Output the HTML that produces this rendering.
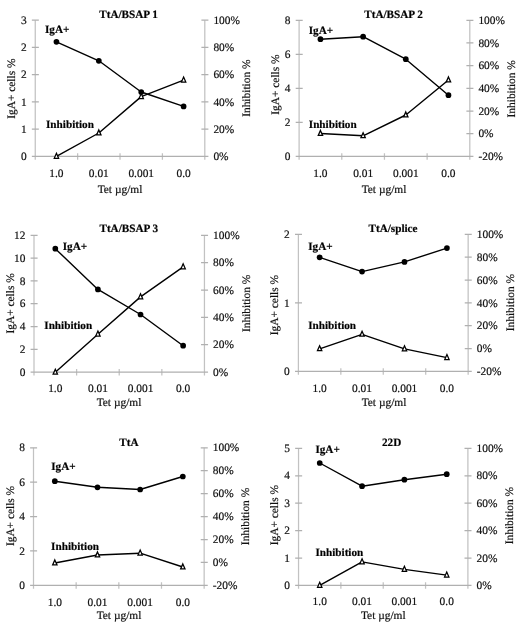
<!DOCTYPE html>
<html><head><meta charset="utf-8"><style>
html,body{margin:0;padding:0;background:#fff;}
svg{display:block;}
text{text-rendering:geometricPrecision;font-family:"Liberation Serif",serif;font-size:11.4px;fill:#111;stroke:#111;stroke-width:0.2px;}
text.b{font-weight:bold;fill:#000;font-size:11.2px;}
</style></head><body>
<svg style="will-change:transform" width="520" height="628" viewBox="0 0 520 628">
<rect width="520" height="628" fill="#fff"/>
<path d="M35.25 20.15V159.7M204.8 20.15V159.7M35.25 153.2V159.7M77.64 153.2V159.7M120.03 153.2V159.7M162.41 153.2V159.7M204.8 153.2V159.7" stroke="#c2c2c2" stroke-width="1.25" fill="none"/>
<path d="M35.25 156.4H204.8M31.85 156.4H38.85M31.85 129.15H38.85M31.85 101.9H38.85M31.85 74.65H38.85M31.85 47.4H38.85M31.85 20.15H38.85M201.4 156.4H208.4M201.4 129.15H208.4M201.4 101.9H208.4M201.4 74.65H208.4M201.4 47.4H208.4M201.4 20.15H208.4" stroke="#b0b0b0" stroke-width="1.25" fill="none"/>
<text x="26.65" y="160" text-anchor="end">0</text>
<text x="26.65" y="132.75" text-anchor="end">1</text>
<text x="26.65" y="105.5" text-anchor="end">1</text>
<text x="26.65" y="78.25" text-anchor="end">2</text>
<text x="26.65" y="51" text-anchor="end">2</text>
<text x="26.65" y="23.75" text-anchor="end">3</text>
<text x="213.4" y="160">0%</text>
<text x="213.4" y="132.75">20%</text>
<text x="213.4" y="105.5">40%</text>
<text x="213.4" y="78.25">60%</text>
<text x="213.4" y="51">80%</text>
<text x="213.4" y="23.75">100%</text>
<text x="56.44" y="176.5" text-anchor="middle">1.0</text>
<text x="98.83" y="176.5" text-anchor="middle">0.01</text>
<text x="141.22" y="176.5" text-anchor="middle">0.001</text>
<text x="183.61" y="176.5" text-anchor="middle">0.0</text>
<text x="120" y="192.6" text-anchor="middle">Tet &#181;g/ml</text>
<text transform="translate(15.15 88.7) rotate(-90)" text-anchor="middle">IgA+ cells %</text>
<text transform="translate(250.45 88.2) rotate(-90)" text-anchor="middle">Inhibition %</text>
<text class="b" x="128.6" y="17.7" text-anchor="middle">TtA/BSAP 1</text>
<text class="b" x="45" y="32.7">IgA+</text>
<text class="b" x="46" y="127.6">Inhibition</text>
<polyline points="56.44,41.8 98.83,60.8 141.22,92 183.61,106.4" fill="none" stroke="#000" stroke-width="1.4" stroke-linejoin="round"/>
<polyline points="56.44,156.4 98.83,133 141.22,96.6 183.61,80.2" fill="none" stroke="#000" stroke-width="1.4" stroke-linejoin="round"/>
<circle cx="56.44" cy="41.8" r="2.85" fill="#000"/>
<circle cx="98.83" cy="60.8" r="2.85" fill="#000"/>
<circle cx="141.22" cy="92" r="2.85" fill="#000"/>
<circle cx="183.61" cy="106.4" r="2.85" fill="#000"/>
<path d="M56.44 153.3L58.64 158.3H54.24Z" fill="#fff" stroke="#000" stroke-width="1.25" stroke-linejoin="miter"/>
<path d="M98.83 129.9L101.03 134.9H96.63Z" fill="#fff" stroke="#000" stroke-width="1.25" stroke-linejoin="miter"/>
<path d="M141.22 93.5L143.42 98.5H139.02Z" fill="#fff" stroke="#000" stroke-width="1.25" stroke-linejoin="miter"/>
<path d="M183.61 77.1L185.81 82.1H181.41Z" fill="#fff" stroke="#000" stroke-width="1.25" stroke-linejoin="miter"/>
<path d="M299.1 20.3V159.65M469.8 20.3V159.65M299.1 153.15V159.65M341.78 153.15V159.65M384.45 153.15V159.65M427.12 153.15V159.65M469.8 153.15V159.65" stroke="#c2c2c2" stroke-width="1.25" fill="none"/>
<path d="M299.1 156.35H469.8M295.7 156.35H302.7M295.7 122.34H302.7M295.7 88.33H302.7M295.7 54.31H302.7M295.7 20.3H302.7M466.4 156.35H473.4M466.4 133.68H473.4M466.4 111H473.4M466.4 88.33H473.4M466.4 65.65H473.4M466.4 42.98H473.4M466.4 20.3H473.4" stroke="#b0b0b0" stroke-width="1.25" fill="none"/>
<text x="290.5" y="159.95" text-anchor="end">0</text>
<text x="290.5" y="125.94" text-anchor="end">2</text>
<text x="290.5" y="91.92" text-anchor="end">4</text>
<text x="290.5" y="57.91" text-anchor="end">6</text>
<text x="290.5" y="23.9" text-anchor="end">8</text>
<text x="478.4" y="159.95">-20%</text>
<text x="478.4" y="137.28">0%</text>
<text x="478.4" y="114.6">20%</text>
<text x="478.4" y="91.92">40%</text>
<text x="478.4" y="69.25">60%</text>
<text x="478.4" y="46.58">80%</text>
<text x="478.4" y="23.9">100%</text>
<text x="320.44" y="176.5" text-anchor="middle">1.0</text>
<text x="363.11" y="176.5" text-anchor="middle">0.01</text>
<text x="405.79" y="176.5" text-anchor="middle">0.001</text>
<text x="448.46" y="176.5" text-anchor="middle">0.0</text>
<text x="384" y="192.5" text-anchor="middle">Tet &#181;g/ml</text>
<text transform="translate(279.45 84.6) rotate(-90)" text-anchor="middle">IgA+ cells %</text>
<text transform="translate(514.85 88.8) rotate(-90)" text-anchor="middle">Inhibition %</text>
<text class="b" x="393.6" y="18.2" text-anchor="middle">TtA/BSAP 2</text>
<text class="b" x="308.7" y="33.5">IgA+</text>
<text class="b" x="308.8" y="127.7">Inhibition</text>
<polyline points="320.44,39.2 363.11,36.7 405.79,59.2 448.46,95.2" fill="none" stroke="#000" stroke-width="1.4" stroke-linejoin="round"/>
<polyline points="320.44,133.5 363.11,135.8 405.79,115 448.46,80" fill="none" stroke="#000" stroke-width="1.4" stroke-linejoin="round"/>
<circle cx="320.44" cy="39.2" r="2.85" fill="#000"/>
<circle cx="363.11" cy="36.7" r="2.85" fill="#000"/>
<circle cx="405.79" cy="59.2" r="2.85" fill="#000"/>
<circle cx="448.46" cy="95.2" r="2.85" fill="#000"/>
<path d="M320.44 130.4L322.64 135.4H318.24Z" fill="#fff" stroke="#000" stroke-width="1.25" stroke-linejoin="miter"/>
<path d="M363.11 132.7L365.31 137.7H360.91Z" fill="#fff" stroke="#000" stroke-width="1.25" stroke-linejoin="miter"/>
<path d="M405.79 111.9L407.99 116.9H403.59Z" fill="#fff" stroke="#000" stroke-width="1.25" stroke-linejoin="miter"/>
<path d="M448.46 76.9L450.66 81.9H446.26Z" fill="#fff" stroke="#000" stroke-width="1.25" stroke-linejoin="miter"/>
<path d="M34 235.3V375.4M204.45 235.3V375.4M34 368.9V375.4M76.61 368.9V375.4M119.22 368.9V375.4M161.84 368.9V375.4M204.45 368.9V375.4" stroke="#c2c2c2" stroke-width="1.25" fill="none"/>
<path d="M34 372.1H204.45M30.6 372.1H37.6M30.6 349.3H37.6M30.6 326.5H37.6M30.6 303.7H37.6M30.6 280.9H37.6M30.6 258.1H37.6M30.6 235.3H37.6M201.05 372.1H208.05M201.05 344.74H208.05M201.05 317.38H208.05M201.05 290.02H208.05M201.05 262.66H208.05M201.05 235.3H208.05" stroke="#b0b0b0" stroke-width="1.25" fill="none"/>
<text x="25.4" y="375.7" text-anchor="end">0</text>
<text x="25.4" y="352.9" text-anchor="end">2</text>
<text x="25.4" y="330.1" text-anchor="end">4</text>
<text x="25.4" y="307.3" text-anchor="end">6</text>
<text x="25.4" y="284.5" text-anchor="end">8</text>
<text x="25.4" y="261.7" text-anchor="end">10</text>
<text x="25.4" y="238.9" text-anchor="end">12</text>
<text x="213.05" y="375.7">0%</text>
<text x="213.05" y="348.34">20%</text>
<text x="213.05" y="320.98">40%</text>
<text x="213.05" y="293.62">60%</text>
<text x="213.05" y="266.26">80%</text>
<text x="213.05" y="238.9">100%</text>
<text x="55.31" y="391.9" text-anchor="middle">1.0</text>
<text x="97.92" y="391.9" text-anchor="middle">0.01</text>
<text x="140.53" y="391.9" text-anchor="middle">0.001</text>
<text x="183.14" y="391.9" text-anchor="middle">0.0</text>
<text x="119" y="405.6" text-anchor="middle">Tet &#181;g/ml</text>
<text transform="translate(13.95 303.4) rotate(-90)" text-anchor="middle">IgA+ cells %</text>
<text transform="translate(249.65 303.4) rotate(-90)" text-anchor="middle">Inhibition %</text>
<text class="b" x="128.8" y="231.6" text-anchor="middle">TtA/BSAP 3</text>
<text class="b" x="62.7" y="250">IgA+</text>
<text class="b" x="44.3" y="329.2">Inhibition</text>
<polyline points="55.31,248.7 97.92,289.4 140.53,314.5 183.14,345.7" fill="none" stroke="#000" stroke-width="1.4" stroke-linejoin="round"/>
<polyline points="55.31,372.3 97.92,334.2 140.53,296.9 183.14,266.9" fill="none" stroke="#000" stroke-width="1.4" stroke-linejoin="round"/>
<circle cx="55.31" cy="248.7" r="2.85" fill="#000"/>
<circle cx="97.92" cy="289.4" r="2.85" fill="#000"/>
<circle cx="140.53" cy="314.5" r="2.85" fill="#000"/>
<circle cx="183.14" cy="345.7" r="2.85" fill="#000"/>
<path d="M55.31 369.2L57.51 374.2H53.11Z" fill="#fff" stroke="#000" stroke-width="1.25" stroke-linejoin="miter"/>
<path d="M97.92 331.1L100.12 336.1H95.72Z" fill="#fff" stroke="#000" stroke-width="1.25" stroke-linejoin="miter"/>
<path d="M140.53 293.8L142.73 298.8H138.33Z" fill="#fff" stroke="#000" stroke-width="1.25" stroke-linejoin="miter"/>
<path d="M183.14 263.8L185.34 268.8H180.94Z" fill="#fff" stroke="#000" stroke-width="1.25" stroke-linejoin="miter"/>
<path d="M298.4 234.4V374.7M468.15 234.4V374.7M298.4 368.2V374.7M340.84 368.2V374.7M383.27 368.2V374.7M425.71 368.2V374.7M468.15 368.2V374.7" stroke="#c2c2c2" stroke-width="1.25" fill="none"/>
<path d="M298.4 371.4H468.15M295 371.4H302M295 302.9H302M295 234.4H302M464.75 371.4H471.75M464.75 348.57H471.75M464.75 325.73H471.75M464.75 302.9H471.75M464.75 280.07H471.75M464.75 257.23H471.75M464.75 234.4H471.75" stroke="#b0b0b0" stroke-width="1.25" fill="none"/>
<text x="289.8" y="375" text-anchor="end">0</text>
<text x="289.8" y="306.5" text-anchor="end">1</text>
<text x="289.8" y="238" text-anchor="end">2</text>
<text x="476.75" y="375">-20%</text>
<text x="476.75" y="352.17">0%</text>
<text x="476.75" y="329.33">20%</text>
<text x="476.75" y="306.5">40%</text>
<text x="476.75" y="283.67">60%</text>
<text x="476.75" y="260.83">80%</text>
<text x="476.75" y="238">100%</text>
<text x="319.62" y="391.5" text-anchor="middle">1.0</text>
<text x="362.06" y="391.5" text-anchor="middle">0.01</text>
<text x="404.49" y="391.5" text-anchor="middle">0.001</text>
<text x="446.93" y="391.5" text-anchor="middle">0.0</text>
<text x="384" y="405.6" text-anchor="middle">Tet &#181;g/ml</text>
<text transform="translate(278.45 305.1) rotate(-90)" text-anchor="middle">IgA+ cells %</text>
<text transform="translate(514.15 302.6) rotate(-90)" text-anchor="middle">Inhibition %</text>
<text class="b" x="393" y="232.2" text-anchor="middle">TtA/splice</text>
<text class="b" x="308.2" y="249.6">IgA+</text>
<text class="b" x="308.2" y="329">Inhibition</text>
<polyline points="319.62,257.3 362.06,271.6 404.49,261.9 446.93,248.1" fill="none" stroke="#000" stroke-width="1.4" stroke-linejoin="round"/>
<polyline points="319.62,348.8 362.06,334.3 404.49,348.9 446.93,357.6" fill="none" stroke="#000" stroke-width="1.4" stroke-linejoin="round"/>
<circle cx="319.62" cy="257.3" r="2.85" fill="#000"/>
<circle cx="362.06" cy="271.6" r="2.85" fill="#000"/>
<circle cx="404.49" cy="261.9" r="2.85" fill="#000"/>
<circle cx="446.93" cy="248.1" r="2.85" fill="#000"/>
<path d="M319.62 345.7L321.82 350.7H317.42Z" fill="#fff" stroke="#000" stroke-width="1.25" stroke-linejoin="miter"/>
<path d="M362.06 331.2L364.26 336.2H359.86Z" fill="#fff" stroke="#000" stroke-width="1.25" stroke-linejoin="miter"/>
<path d="M404.49 345.8L406.69 350.8H402.29Z" fill="#fff" stroke="#000" stroke-width="1.25" stroke-linejoin="miter"/>
<path d="M446.93 354.5L449.13 359.5H444.73Z" fill="#fff" stroke="#000" stroke-width="1.25" stroke-linejoin="miter"/>
<path d="M33.5 447.75V588.7M204.15 447.75V588.7M33.5 582.2V588.7M76.16 582.2V588.7M118.83 582.2V588.7M161.49 582.2V588.7M204.15 582.2V588.7" stroke="#c2c2c2" stroke-width="1.25" fill="none"/>
<path d="M33.5 585.4H204.15M30.1 585.4H37.1M30.1 550.99H37.1M30.1 516.58H37.1M30.1 482.16H37.1M30.1 447.75H37.1M200.75 585.4H207.75M200.75 562.46H207.75M200.75 539.52H207.75M200.75 516.58H207.75M200.75 493.63H207.75M200.75 470.69H207.75M200.75 447.75H207.75" stroke="#b0b0b0" stroke-width="1.25" fill="none"/>
<text x="24.9" y="589" text-anchor="end">0</text>
<text x="24.9" y="554.59" text-anchor="end">2</text>
<text x="24.9" y="520.18" text-anchor="end">4</text>
<text x="24.9" y="485.76" text-anchor="end">6</text>
<text x="24.9" y="451.35" text-anchor="end">8</text>
<text x="212.75" y="589">-20%</text>
<text x="212.75" y="566.06">0%</text>
<text x="212.75" y="543.12">20%</text>
<text x="212.75" y="520.18">40%</text>
<text x="212.75" y="497.23">60%</text>
<text x="212.75" y="474.29">80%</text>
<text x="212.75" y="451.35">100%</text>
<text x="54.83" y="605.6" text-anchor="middle">1.0</text>
<text x="97.49" y="605.6" text-anchor="middle">0.01</text>
<text x="140.16" y="605.6" text-anchor="middle">0.001</text>
<text x="182.82" y="605.6" text-anchor="middle">0.0</text>
<text x="119" y="619.2" text-anchor="middle">Tet &#181;g/ml</text>
<text transform="translate(13.65 516) rotate(-90)" text-anchor="middle">IgA+ cells %</text>
<text transform="translate(249.15 516.5) rotate(-90)" text-anchor="middle">Inhibition %</text>
<text class="b" x="128.9" y="446.3" text-anchor="middle">TtA</text>
<text class="b" x="51.2" y="470.1">IgA+</text>
<text class="b" x="51.1" y="550.1">Inhibition</text>
<polyline points="54.83,481.2 97.49,487.3 140.16,489.5 182.82,476.5" fill="none" stroke="#000" stroke-width="1.4" stroke-linejoin="round"/>
<polyline points="54.83,563 97.49,555 140.16,553.2 182.82,567" fill="none" stroke="#000" stroke-width="1.4" stroke-linejoin="round"/>
<circle cx="54.83" cy="481.2" r="2.85" fill="#000"/>
<circle cx="97.49" cy="487.3" r="2.85" fill="#000"/>
<circle cx="140.16" cy="489.5" r="2.85" fill="#000"/>
<circle cx="182.82" cy="476.5" r="2.85" fill="#000"/>
<path d="M54.83 559.9L57.03 564.9H52.63Z" fill="#fff" stroke="#000" stroke-width="1.25" stroke-linejoin="miter"/>
<path d="M97.49 551.9L99.69 556.9H95.29Z" fill="#fff" stroke="#000" stroke-width="1.25" stroke-linejoin="miter"/>
<path d="M140.16 550.1L142.36 555.1H137.96Z" fill="#fff" stroke="#000" stroke-width="1.25" stroke-linejoin="miter"/>
<path d="M182.82 563.9L185.02 568.9H180.62Z" fill="#fff" stroke="#000" stroke-width="1.25" stroke-linejoin="miter"/>
<path d="M298.55 448.4V588.7M467.9 448.4V588.7M298.55 582.2V588.7M340.89 582.2V588.7M383.23 582.2V588.7M425.56 582.2V588.7M467.9 582.2V588.7" stroke="#c2c2c2" stroke-width="1.25" fill="none"/>
<path d="M298.55 585.4H467.9M295.15 585.4H302.15M295.15 558H302.15M295.15 530.6H302.15M295.15 503.2H302.15M295.15 475.8H302.15M295.15 448.4H302.15M464.5 585.4H471.5M464.5 558H471.5M464.5 530.6H471.5M464.5 503.2H471.5M464.5 475.8H471.5M464.5 448.4H471.5" stroke="#b0b0b0" stroke-width="1.25" fill="none"/>
<text x="289.95" y="589" text-anchor="end">0</text>
<text x="289.95" y="561.6" text-anchor="end">1</text>
<text x="289.95" y="534.2" text-anchor="end">2</text>
<text x="289.95" y="506.8" text-anchor="end">3</text>
<text x="289.95" y="479.4" text-anchor="end">4</text>
<text x="289.95" y="452" text-anchor="end">5</text>
<text x="476.5" y="589">0%</text>
<text x="476.5" y="561.6">20%</text>
<text x="476.5" y="534.2">40%</text>
<text x="476.5" y="506.8">60%</text>
<text x="476.5" y="479.4">80%</text>
<text x="476.5" y="452">100%</text>
<text x="319.72" y="605.2" text-anchor="middle">1.0</text>
<text x="362.06" y="605.2" text-anchor="middle">0.01</text>
<text x="404.39" y="605.2" text-anchor="middle">0.001</text>
<text x="446.73" y="605.2" text-anchor="middle">0.0</text>
<text x="383.3" y="619.2" text-anchor="middle">Tet &#181;g/ml</text>
<text transform="translate(278.05 515.2) rotate(-90)" text-anchor="middle">IgA+ cells %</text>
<text transform="translate(513.45 515.6) rotate(-90)" text-anchor="middle">Inhibition %</text>
<text class="b" x="391.6" y="446.3" text-anchor="middle">22D</text>
<text class="b" x="315.4" y="453.2">IgA+</text>
<text class="b" x="315.4" y="556.2">Inhibition</text>
<polyline points="319.72,463 362.06,486.2 404.39,479.7 446.73,474.2" fill="none" stroke="#000" stroke-width="1.4" stroke-linejoin="round"/>
<polyline points="319.72,585.4 362.06,561.9 404.39,569.4 446.73,575.1" fill="none" stroke="#000" stroke-width="1.4" stroke-linejoin="round"/>
<circle cx="319.72" cy="463" r="2.85" fill="#000"/>
<circle cx="362.06" cy="486.2" r="2.85" fill="#000"/>
<circle cx="404.39" cy="479.7" r="2.85" fill="#000"/>
<circle cx="446.73" cy="474.2" r="2.85" fill="#000"/>
<path d="M319.72 582.3L321.92 587.3H317.52Z" fill="#fff" stroke="#000" stroke-width="1.25" stroke-linejoin="miter"/>
<path d="M362.06 558.8L364.26 563.8H359.86Z" fill="#fff" stroke="#000" stroke-width="1.25" stroke-linejoin="miter"/>
<path d="M404.39 566.3L406.59 571.3H402.19Z" fill="#fff" stroke="#000" stroke-width="1.25" stroke-linejoin="miter"/>
<path d="M446.73 572L448.93 577H444.53Z" fill="#fff" stroke="#000" stroke-width="1.25" stroke-linejoin="miter"/>
</svg>
</body></html>
